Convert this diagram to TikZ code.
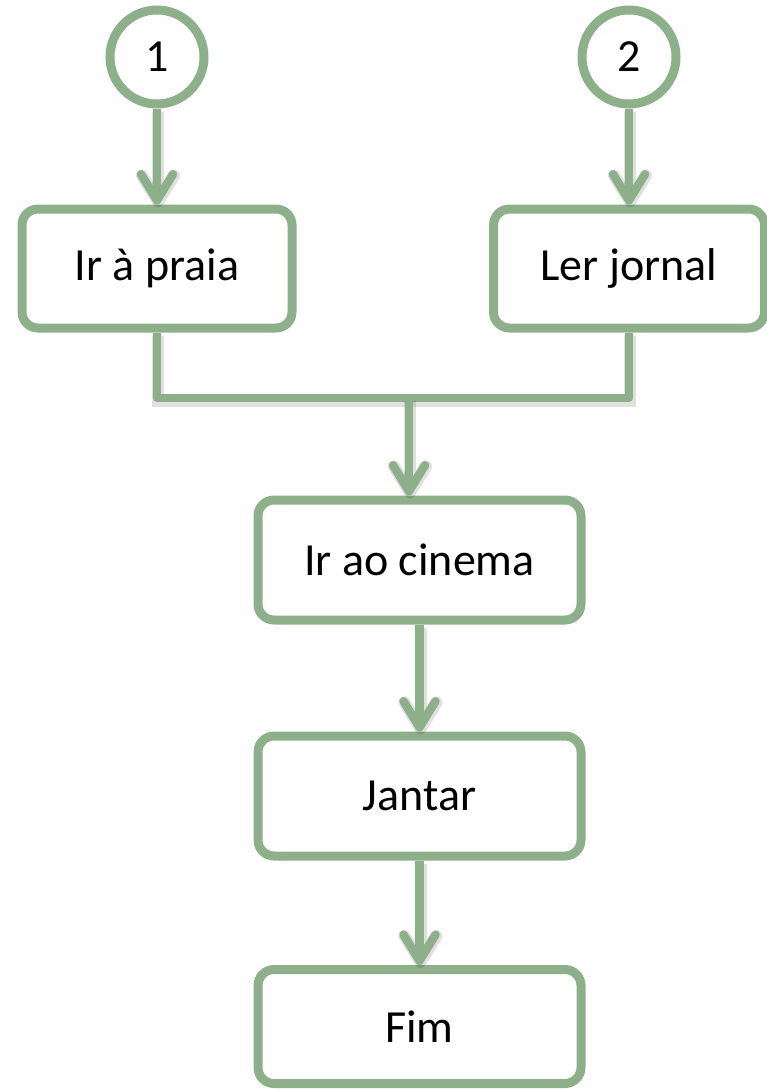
\documentclass[tikz,border=0pt]{standalone}
\usepackage{fontspec}
\setmainfont{Carlito}
\usetikzlibrary{positioning,arrows.meta}
\definecolor{sage}{HTML}{8DB08B}

\begin{document}
\begin{tikzpicture}[x=1pt,y=1pt,on grid,
    every node/.style={font=\fontsize{46}{55}\selectfont},
    task/.style={draw=sage,line width=9pt,rounded corners=16pt,fill=white,
      minimum width=270pt,minimum height=119pt},
    wide/.style={task,minimum width=323pt,minimum height=120pt},
    start/.style={circle,draw=sage,line width=9pt,fill=white,minimum size=94pt},
    shade/.style={preaction={draw=black,opacity=0.12,line width=12pt,
      transform canvas={shift={(1pt,-3pt)}}}},
    link/.style={draw=sage,line width=8.5pt,line join=round,shade},
    flow/.style={link,-{Straight Barb[length=26pt,width=32pt,round]}}]
  \useasboundingbox (0,0) rectangle (767,-1090);
  \node[task](praia) at (157,-268.5) {Ir à praia};
  \node[task,minimum width=271pt](jornal)[right=472pt of praia] {Ler jornal};
  \node[start](one)[above=211.5pt of praia] {1};
  \node[start](two)[above=211.5pt of jornal] {2};
  \node[wide](cinema) at (419.5,-560) {Ir ao cinema};
  \node[wide](jantar)[below=236pt of cinema] {Jantar};
  \node[wide,minimum height=114pt](fim)[below=230.5pt of jantar] {Fim};
  \coordinate (join) at (409,-398);
  % ligacoes
  \draw[flow] (one) -- (praia);
  \draw[flow] (two) -- (jornal);
  \draw[link] (praia) -- (praia |- join) -- (jornal |- join) -- (jornal);
  \draw[flow] (join) -- (join |- cinema.north);
  \draw[flow] (cinema) -- (jantar);
  \draw[flow] (jantar) -- (fim);
\end{tikzpicture}
\end{document}
